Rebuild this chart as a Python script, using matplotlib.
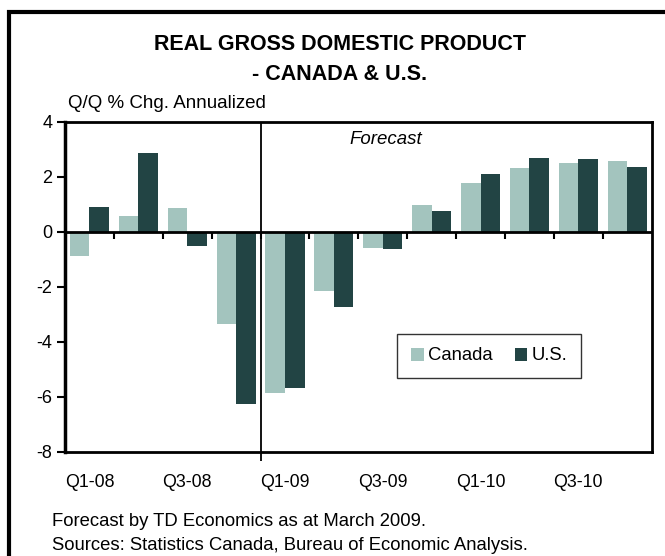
import numpy as np
import matplotlib
matplotlib.use("Agg")
import matplotlib.pyplot as plt
from matplotlib.patches import Rectangle

plt.rcParams["font.family"] = ["Liberation Sans", "DejaVu Sans"]

# data
quarters = ["Q1-08", "Q2-08", "Q3-08", "Q4-08", "Q1-09", "Q2-09",
            "Q3-09", "Q4-09", "Q1-10", "Q2-10", "Q3-10", "Q4-10"]
canada = [-0.87, 0.57, 0.85, -3.35, -5.87, -2.15, -0.6, 0.97, 1.77, 2.32, 2.5, 2.57]
us = [0.9, 2.86, -0.51, -6.25, -5.67, -2.73, -0.63, 0.75, 2.1, 2.68, 2.64, 2.35]
forecast_start = 4  # first forecast quarter (Q1-09)
yticks = [-8, -6, -4, -2, 0, 2, 4]

c_can = "#A3C4BE"
c_us = "#224444"

fig = plt.figure(figsize=(6.65, 5.56), dpi=100)
ax = fig.add_axes([65 / 665, 1 - 451.7 / 556, 586.7 / 665, 330 / 556])

x = np.arange(len(quarters))
w = 0.4
ax.bar(x - w / 2, canada, w, color=c_can, label="Canada", zorder=2)
ax.bar(x + w / 2, us, w, color=c_us, label="U.S.", zorder=2)

ax.set_xlim(-0.5, len(quarters) - 0.5)
ax.set_ylim(-8, 4)
ax.set_yticks(yticks)
ax.set_yticklabels([str(v) for v in yticks])
ax.tick_params(axis="y", direction="out", length=6, width=1.5, labelsize=13, pad=3)

ax.set_xticks(x[::2])
ax.set_xticklabels(quarters[::2])
ax.tick_params(axis="x", length=0, labelsize=12.8, pad=16)

for s in ax.spines.values():
    s.set_linewidth(2)
    s.set_color("black")
ax.spines["left"].set_linewidth(2.5)

# zero line with category separator ticks
ax.axhline(0, color="black", lw=2, zorder=3)
ax.vlines(x[1:] - 0.5, -0.25, 0, color="black", lw=1.5, zorder=3)

# forecast divider
ax.vlines(forecast_start - 0.5, -8.35, 4, color="black", lw=1.3, clip_on=False, zorder=3)
ax.text(0.547, 0.945, "Forecast", transform=ax.transAxes, ha="center", va="center",
        fontsize=13.4, style="italic")

leg = ax.legend(loc="center", bbox_to_anchor=(0.7227, 0.29), ncol=2, frameon=True,
                fancybox=False, edgecolor="black", fontsize=13.3,
                handlelength=0.7, handleheight=0.7, handletextpad=0.2,
                columnspacing=1.2, borderpad=0.75, borderaxespad=0)
leg.get_frame().set_linewidth(1)

fig.text(0.511, 1 - 45 / 556, "REAL GROSS DOMESTIC PRODUCT", ha="center", va="center",
         fontsize=15.5, fontweight="bold")
fig.text(0.511, 1 - 75 / 556, "- CANADA & U.S.", ha="center", va="center",
         fontsize=15.5, fontweight="bold")
fig.text(68 / 665, 1 - 104 / 556, "Q/Q % Chg. Annualized", ha="left", va="center",
         fontsize=13.5)

fig.text(52 / 665, 1 - 522 / 556, "Forecast by TD Economics as at March 2009.",
         ha="left", va="center", fontsize=13.3)
fig.text(52 / 665, 1 - 546 / 556, "Sources: Statistics Canada, Bureau of Economic Analysis.",
         ha="left", va="center", fontsize=13.3)

# outer frame (right/bottom edges fall outside the image)
fig.patches.append(Rectangle((8.5 / 665, -0.1), 1.2, 1.1 - 12 / 556, transform=fig.transFigure,
                             fill=False, lw=3, edgecolor="black"))

fig.savefig("out.png", dpi=100)
